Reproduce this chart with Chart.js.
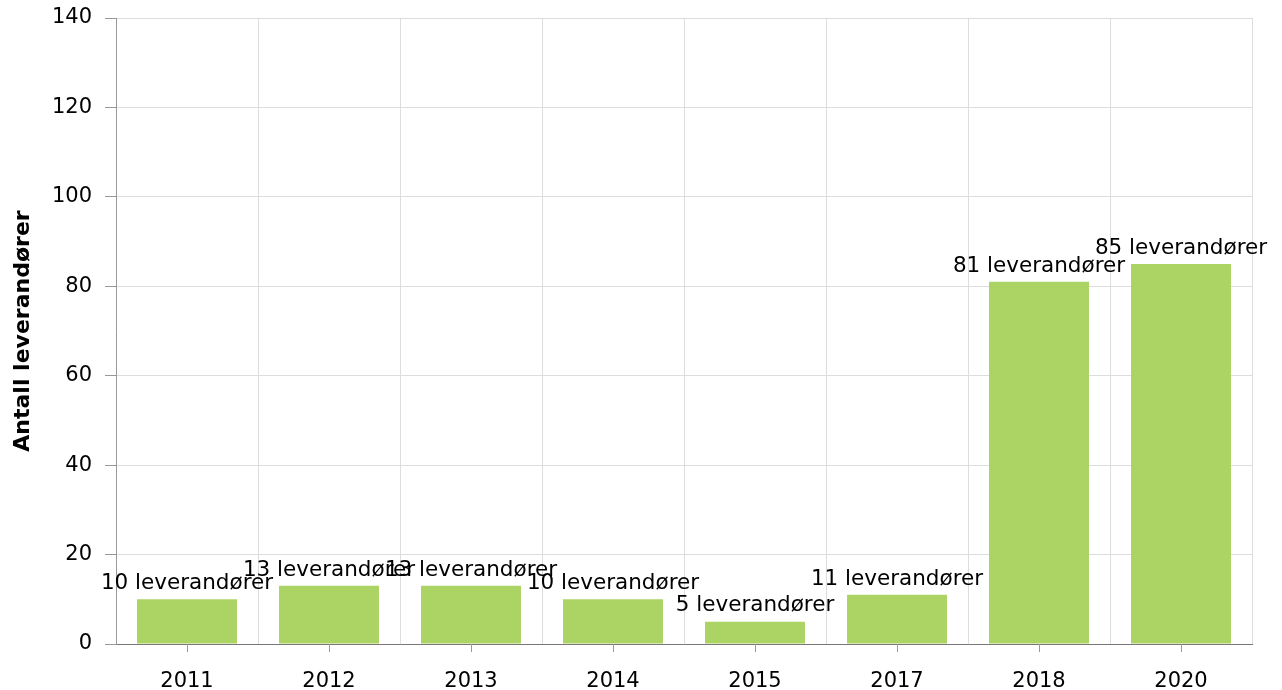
<!DOCTYPE html>
<html>
<head>
<meta charset="utf-8">
<script src="https://cdn.jsdelivr.net/npm/chart.js@4.4.0/dist/chart.umd.min.js"></script>
<style>
  html, body { margin: 0; padding: 0; background: #fff; }
  #wrap { width: 1282px; height: 690px; }
</style>
</head>
<body>
<div id="wrap"><canvas id="myChart" width="1282" height="690"></canvas></div>
<script>
var years = ["2011", "2012", "2013", "2014", "2015", "2017", "2018", "2020"];
var antall = [10, 13, 13, 10, 5, 11, 81, 85];
var yTicks = [0, 20, 40, 60, 80, 100, 120, 140];
var enhet = " leverandører";

var fontName = "Verdana, 'DejaVu Sans', sans-serif";

// value labels above bars + tick marks at category centers
var extras = {
    id: "extras",
    afterDatasetsDraw: function(chart){
        var ctx = chart.ctx;
        var meta = chart.getDatasetMeta(0);
        ctx.save();
        ctx.font = "21.5px " + fontName;
        ctx.fillStyle = "#000";
        ctx.textAlign = "center";
        ctx.textBaseline = "bottom";
        meta.data.forEach(function(bar, i){
            ctx.fillText(antall[i] + enhet, bar.x, bar.y - 5);
        });
        ctx.restore();
    },
    afterDraw: function(chart){
        var ctx = chart.ctx;
        var x = chart.scales.x;
        ctx.save();
        ctx.strokeStyle = "#999";
        ctx.lineWidth = 1;
        for (var i = 0; i < years.length; i++){
            var px = Math.round(x.getPixelForValue(i)) + 0.5;
            ctx.beginPath();
            ctx.moveTo(px, x.top);
            ctx.lineTo(px, x.top + 8);
            ctx.stroke();
        }
        ctx.restore();
    }
};

var chart = new Chart(document.getElementById("myChart"), {
    type: "bar",
    data: {
        labels: years,
        datasets: [{
            label: "Antall leverandører",
            data: antall,
            backgroundColor: "#acd464",
            borderWidth: 0,
            barPercentage: 0.704,
            categoryPercentage: 1
        }]
    },
    options: {
        responsive: false,
        animation: false,
        layout: { padding: { top: 0, right: 30, left: 0, bottom: 0 } },
        plugins: {
            legend: { display: false },
            tooltip: { enabled: false }
        },
        scales: {
            x: {
                offset: true,
                grid: { offset: true, color: "#dddddd", tickColor: "rgba(0,0,0,0)", tickLength: 8 },
                border: { color: "#777" },
                ticks: { color: "#000", font: { size: 21, family: fontName }, padding: 17, maxRotation: 0 },
                afterFit: function(s){ s.height = 46; }
            },
            y: {
                min: 0,
                max: 140,
                afterBuildTicks: function(s){ s.ticks = yTicks.map(function(v){ return { value: v }; }); },
                grid: { color: "#dddddd", tickColor: "#999", tickLength: 11 },
                border: { color: "#999" },
                ticks: { color: "#000", font: { size: 21, family: fontName }, padding: 13 },
                title: {
                    display: true,
                    text: "Antall leverandører",
                    color: "#000",
                    font: { size: 22, weight: "bold", family: fontName },
                    padding: { top: 10, bottom: 0 }
                },
                afterFit: function(s){ s.width = 116; s.paddingTop = 18; s.paddingBottom = 0; }
            }
        }
    },
    plugins: [extras]
});
</script>
</body>
</html>
